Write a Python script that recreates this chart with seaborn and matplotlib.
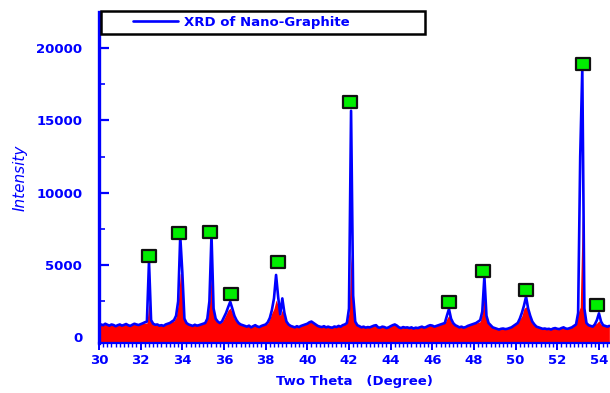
import matplotlib
matplotlib.use("Agg")
import matplotlib.pyplot as plt
import seaborn as sns
import pandas as pd
from matplotlib.path import Path
from matplotlib.lines import Line2D
from matplotlib.ticker import MultipleLocator
from matplotlib.legend_handler import HandlerLine2D

# ---------------- data ----------------
two_theta = [
    30.0, 30.1, 30.2, 30.3, 30.4, 30.5, 30.6, 30.7, 30.8, 30.9,
    31.0, 31.1, 31.2, 31.3, 31.4, 31.5, 31.6, 31.7, 31.8, 31.9,
    32.0, 32.1, 32.2, 32.3, 32.4, 32.5, 32.6, 32.7, 32.8, 32.9,
    33.0, 33.1, 33.2, 33.3, 33.4, 33.5, 33.6, 33.7, 33.8, 33.9,
    34.0, 34.1, 34.2, 34.3, 34.4, 34.5, 34.6, 34.7, 34.8, 34.9,
    35.0, 35.1, 35.2, 35.3, 35.4, 35.5, 35.6, 35.7, 35.8, 35.9,
    36.0, 36.1, 36.2, 36.3, 36.4, 36.5, 36.6, 36.7, 36.8, 36.9,
    37.0, 37.1, 37.2, 37.3, 37.4, 37.5, 37.6, 37.7, 37.8, 37.9,
    38.0, 38.1, 38.2, 38.3, 38.4, 38.5, 38.6, 38.7, 38.8, 38.9,
    39.0, 39.1, 39.2, 39.3, 39.4, 39.5, 39.6, 39.7, 39.8, 39.9,
    40.0, 40.1, 40.2, 40.3, 40.4, 40.5, 40.6, 40.7, 40.8, 40.9,
    41.0, 41.1, 41.2, 41.3, 41.4, 41.5, 41.6, 41.7, 41.8, 41.9,
    42.0, 42.1, 42.2, 42.3, 42.4, 42.5, 42.6, 42.7, 42.8, 42.9,
    43.0, 43.1, 43.2, 43.3, 43.4, 43.5, 43.6, 43.7, 43.8, 43.9,
    44.0, 44.1, 44.2, 44.3, 44.4, 44.5, 44.6, 44.7, 44.8, 44.9,
    45.0, 45.1, 45.2, 45.3, 45.4, 45.5, 45.6, 45.7, 45.8, 45.9,
    46.0, 46.1, 46.2, 46.3, 46.4, 46.5, 46.6, 46.7, 46.8, 46.9,
    47.0, 47.1, 47.2, 47.3, 47.4, 47.5, 47.6, 47.7, 47.8, 47.9,
    48.0, 48.1, 48.2, 48.3, 48.4, 48.5, 48.6, 48.7, 48.8, 48.9,
    49.0, 49.1, 49.2, 49.3, 49.4, 49.5, 49.6, 49.7, 49.8, 49.9,
    50.0, 50.1, 50.2, 50.3, 50.4, 50.5, 50.6, 50.7, 50.8, 50.9,
    51.0, 51.1, 51.2, 51.3, 51.4, 51.5, 51.6, 51.7, 51.8, 51.9,
    52.0, 52.1, 52.2, 52.3, 52.4, 52.5, 52.6, 52.7, 52.8, 52.9,
    53.0, 53.1, 53.2, 53.3, 53.4, 53.5, 53.6, 53.7, 53.8, 53.9,
    54.0, 54.1, 54.2, 54.3, 54.4, 54.5,
]

intensity_blue = [
    700, 900, 850, 950, 880, 820, 900, 860, 780, 850,
    900, 820, 870, 930, 850, 800, 880, 950, 900, 860,
    920, 980, 1050, 1100, 5250, 1200, 950, 880, 900, 820,
    850, 800, 900, 950, 1000, 1100, 1200, 1500, 2500, 7000,
    4500, 1300, 1000, 900, 850, 800, 880, 820, 850, 900,
    950, 1000, 1300, 2500, 7100, 2000, 1300, 1100, 1000, 1100,
    1400, 1700, 2100, 2470, 2000, 1500, 1200, 1000, 900, 850,
    800, 750, 820, 700, 780, 850, 760, 720, 800, 850,
    900, 1050, 1350, 1900, 2700, 4320, 2800, 1600, 2700, 1700,
    1100, 900, 800, 750, 700, 780, 720, 800, 850, 900,
    950, 1050, 1100, 1000, 900, 800, 750, 720, 780, 700,
    750, 700, 680, 760, 720, 800, 750, 850, 900, 1000,
    2000, 15660, 2900, 1100, 850, 780, 700, 750, 680, 720,
    700, 760, 820, 850, 700, 680, 750, 720, 650, 700,
    780, 850, 900, 820, 700, 650, 720, 680, 700, 650,
    700, 620, 680, 650, 700, 750, 680, 720, 800, 850,
    820, 750, 800, 850, 900, 950, 1000, 1500, 1970, 1300,
    1000, 850, 780, 700, 750, 680, 720, 800, 850, 900,
    950, 1000, 1100, 1200, 1800, 4200, 1500, 1000, 850, 700,
    650, 600, 550, 600, 620, 580, 600, 650, 700, 800,
    900, 1000, 1300, 1700, 2200, 2820, 2000, 1500, 1100, 900,
    750, 700, 650, 600, 620, 580, 600, 550, 620, 650,
    600, 580, 650, 700, 620, 600, 650, 700, 800, 900,
    1700, 12490, 18600, 2000, 1000, 850, 800, 750, 900, 1200,
    1670, 1100, 850, 800, 750, 800,
]

intensity_red = [
    700, 900, 850, 950, 880, 820, 900, 860, 780, 850,
    900, 820, 870, 930, 850, 800, 880, 950, 900, 860,
    920, 980, 1000, 1000, 2470, 1100, 950, 880, 900, 820,
    850, 800, 900, 950, 1000, 1100, 1150, 1400, 2300, 4400,
    4500, 1200, 1000, 900, 850, 800, 880, 820, 850, 900,
    950, 1000, 1250, 2300, 4660, 1900, 1200, 1100, 1000, 1050,
    1300, 1600, 1900, 2040, 1700, 1300, 1100, 1000, 900, 850,
    800, 750, 820, 700, 780, 850, 760, 720, 800, 850,
    900, 1000, 1300, 1700, 2000, 2590, 2200, 1500, 1900, 1400,
    1000, 900, 800, 750, 700, 780, 720, 800, 850, 900,
    950, 1050, 1100, 1000, 900, 800, 750, 720, 780, 700,
    750, 700, 680, 760, 720, 800, 750, 850, 900, 1000,
    1700, 5770, 2730, 1000, 850, 780, 700, 750, 680, 720,
    700, 760, 820, 850, 700, 680, 750, 720, 650, 700,
    780, 850, 900, 820, 700, 650, 720, 680, 700, 650,
    700, 620, 680, 650, 700, 750, 680, 720, 800, 850,
    820, 750, 800, 850, 900, 950, 1000, 1300, 1550, 1100,
    950, 850, 780, 700, 750, 680, 720, 800, 850, 900,
    950, 1000, 1050, 1100, 1700, 3000, 1400, 900, 850, 700,
    650, 600, 550, 600, 620, 580, 600, 650, 700, 800,
    900, 1000, 1250, 1500, 2000, 2130, 1800, 1300, 1000, 900,
    750, 700, 650, 600, 620, 580, 600, 550, 620, 650,
    600, 580, 650, 700, 620, 600, 650, 700, 800, 900,
    1700, 2100, 8500, 2000, 900, 850, 800, 750, 900, 1000,
    1150, 900, 850, 800, 750, 800,
]

peak_x = [32.4, 33.85, 35.35, 36.35, 38.6, 42.05, 46.8, 48.45, 50.5, 53.25, 53.9]
peak_y = [5630, 7240, 7310, 3000, 5190, 16240, 2430, 4570, 3280, 18890, 2240]

x_ticks = [30, 32, 34, 36, 38, 40, 42, 44, 46, 48, 50, 52, 54]
y_ticks = [0, 5000, 10000, 15000, 20000]

series_label = "XRD of Nano-Graphite"
x_title = "Two Theta   (Degree)"
y_title = "Intensity"

# ---------------- plot ----------------
sns.set_style("ticks")
plt.rcParams['font.family'] = ['DejaVu Sans']

BLUE = "#0000ff"
df = pd.DataFrame({"two_theta": two_theta, "blue": intensity_blue, "red": intensity_red})
peaks = pd.DataFrame({"x": peak_x, "y": peak_y})

fig = plt.figure(figsize=(6.1, 3.93), dpi=100)
ax = fig.add_axes([99 / 610, 50 / 393, 511 / 610, 331 / 393])

YMIN, YMAX = -380, 22480
ax.fill_between(df["two_theta"], df["red"], YMIN, color="#ff0000", lw=0, zorder=1)
sns.lineplot(data=df, x="two_theta", y="blue", color=BLUE, lw=1.9,
             estimator=None, sort=False, ax=ax, label=series_label, zorder=2)

rect = Path([(-7, -5.5), (7, -5.5), (7, 5.5), (-7, 5.5), (-7, -5.5)],
            [Path.MOVETO, Path.LINETO, Path.LINETO, Path.LINETO, Path.CLOSEPOLY])
sns.scatterplot(data=peaks, x="x", y="y", marker=rect, s=105, color="#00ee00",
                edgecolor="#111111", linewidth=1.6, ax=ax, zorder=4, legend=False)

ax.set_xlim(30, 54.53)
ax.set_ylim(YMIN, YMAX)

for side in ("top", "right"):
    ax.spines[side].set_visible(False)
ax.spines["left"].set_color(BLUE)
ax.spines["left"].set_linewidth(2.4)
ax.spines["bottom"].set_color(BLUE)
ax.spines["bottom"].set_linewidth(1.6)

ax.set_xticks(x_ticks)
ax.set_yticks(y_ticks)
ax.xaxis.set_minor_locator(MultipleLocator(0.2))
ax.yaxis.set_minor_locator(MultipleLocator(2500))
ax.tick_params(axis="y", which="major", direction="in", length=7, width=1.6,
               colors=BLUE, pad=12, labelsize=9.5)
ax.tick_params(axis="y", which="minor", direction="in", length=4, width=1.2, colors=BLUE)
ax.tick_params(axis="x", which="major", direction="out", length=5, width=1.4,
               colors=BLUE, pad=3, labelsize=9.5)
ax.tick_params(axis="x", which="minor", direction="out", length=3, width=1.0, colors=BLUE)
for lbl in ax.get_xticklabels() + ax.get_yticklabels():
    lbl.set_fontweight("bold")

ax.set_xlabel(x_title, color=BLUE, fontsize=9.5, fontweight="bold", labelpad=6)
ax.set_ylabel(y_title, color=BLUE, fontsize=11, fontstyle="italic", labelpad=6)

handles, labels = ax.get_legend_handles_labels()
leg = ax.legend(handles, labels, loc="upper left",
                bbox_to_anchor=(2 / 511, (343 - 14) / 331, 324 / 511, 0.01),
                mode="expand", borderaxespad=0, frameon=True, fancybox=False,
                handlelength=5.4, handletextpad=0.5, borderpad=0.4,
                prop={"weight": "bold", "size": 9.5},
                handler_map={Line2D: HandlerLine2D(xpad=2.0)})
for t in leg.get_texts():
    t.set_color(BLUE)
frame = leg.get_frame()
frame.set_edgecolor("black")
frame.set_linewidth(1.8)
frame.set_alpha(1)
leg.set_zorder(5)

fig.savefig("out.png", dpi=100)
